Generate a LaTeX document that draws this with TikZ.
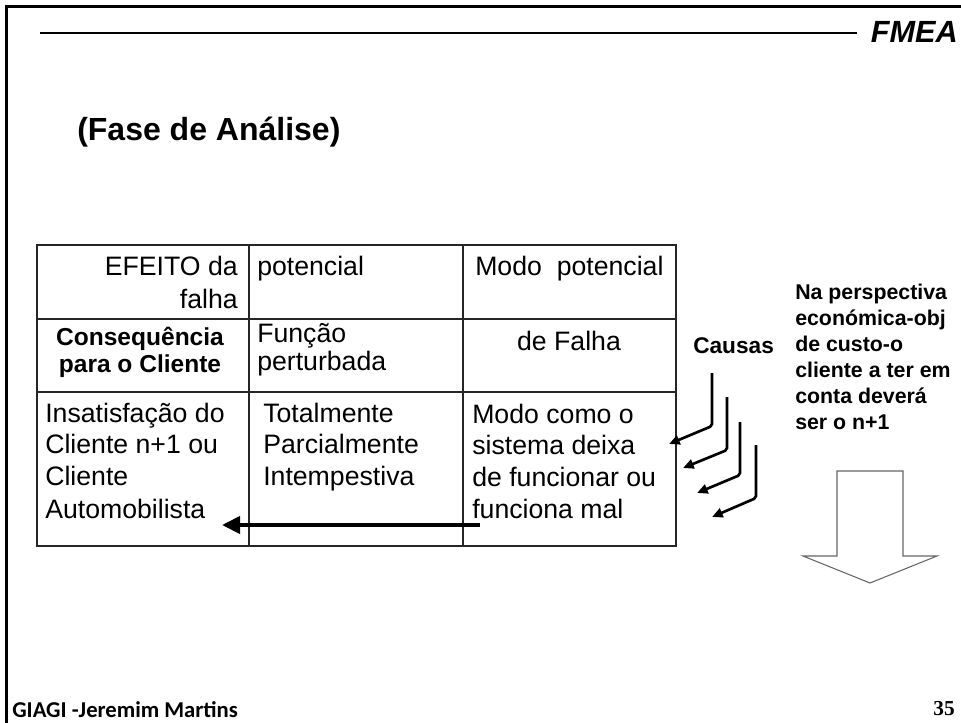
\documentclass[tikz,border=0pt]{standalone}
\usepackage{fontspec}
\setmainfont{Liberation Sans}
\newfontfamily\footfont{Carlito}
\newfontfamily\numfont{Liberation Serif}
\usetikzlibrary{arrows.meta}
\tikzset{
  txt/.style={inner sep=0pt, anchor=base west, font=\fontsize{20}{24}\selectfont},
  boldtxt/.style={inner sep=0pt, anchor=base, font=\fontsize{18.4}{22}\selectfont\bfseries},
  notetxt/.style={inner sep=0pt, anchor=base west, font=\fontsize{16}{19}\selectfont\bfseries},
  tableline/.style={line width=1.1pt, draw=black!85},
  causearrow/.style={line width=2pt, rounded corners=1.5pt, -{Triangle[length=8pt,width=7pt]}},
  blockarrow/.style={line width=0.8pt, draw=black!60, line join=miter}
}
\begin{document}
\begin{tikzpicture}[x=0.75pt,y=-0.75pt]
\useasboundingbox (0,0) rectangle (961,722);
% frame
\draw[line width=2.25pt, line join=miter] (6.5,730) -- (6.5,6.5) -- (970,6.5);
% header
\draw[line width=0.8pt] (40,33) -- (857,33);
\node[inner sep=0pt, anchor=base east, font=\fontsize{23}{27}\selectfont\bfseries\itshape] (fmea) at (958,42) {FMEA};
\node[inner sep=0pt, anchor=base west, font=\fontsize{24}{29}\selectfont\bfseries] (title) at (77,140) {(Fase de Análise)};
% table
\draw[tableline] (37,245) rectangle (676,546);
\draw[tableline] (249,245) -- (249,546);
\draw[tableline] (463,245) -- (463,546);
\draw[tableline] (37,319) -- (676,319);
\draw[tableline] (37,392) -- (676,392);
% row 1
\node[txt, anchor=base east] (c11a) at (238,275) {EFEITO da};
\node[txt, anchor=base east] (c11b) at (238,308) {falha};
\node[txt] (c12) at (257,275) {potencial};
\node[txt] (c13) at (475,275) {Modo\ \ potencial};
% row 2
\node[boldtxt] (c21a) at (140,345) {Consequência};
\node[boldtxt] (c21b) at (140,372) {para o Cliente};
\node[txt] (c22a) at (257,342) {Função};
\node[txt] (c22b) at (257,370) {perturbada};
\node[txt, anchor=base] (c23) at (569,350) {de Falha};
% row 3
\node[txt] (c31a) at (45,422) {Insatisfação do};
\node[txt] (c31b) at (45,453) {Cliente n+1 ou};
\node[txt] (c31c) at (45,485) {Cliente};
\node[txt] (c31d) at (45,518) {Automobilista};
\node[txt] (c32a) at (263,422) {Totalmente};
\node[txt] (c32b) at (263,453) {Parcialmente};
\node[txt] (c32c) at (263,485) {Intempestiva};
\node[txt] (c33a) at (472,423) {Modo como o};
\node[txt] (c33b) at (472,454) {sistema deixa};
\node[txt] (c33c) at (472,486) {de funcionar ou};
\node[txt] (c33d) at (472,518) {funciona mal};
% table arrow
\coordinate (tailA) at (480,525);
\coordinate (headA) at (222,525);
\draw[line width=3pt, -{Triangle[length=13.5pt,width=12.75pt]}] (tailA) -- (headA);
% causas
\node[inner sep=0pt, anchor=base west, font=\fontsize{17}{20}\selectfont\bfseries] (causas) at (693,353) {Causas};
\coordinate (a1t) at (712,373); \coordinate (a1b) at (712,426); \coordinate (a1h) at (669,444);
\coordinate (a2t) at (727,397); \coordinate (a2b) at (727,450); \coordinate (a2h) at (683,468);
\coordinate (a3t) at (740,422); \coordinate (a3b) at (740,475); \coordinate (a3h) at (697,493);
\coordinate (a4t) at (756,445); \coordinate (a4b) at (756,498); \coordinate (a4h) at (712,517);
\draw[causearrow] (a1t) -- (a1b) -- (a1h);
\draw[causearrow] (a2t) -- (a2b) -- (a2h);
\draw[causearrow] (a3t) -- (a3b) -- (a3h);
\draw[causearrow] (a4t) -- (a4b) -- (a4h);
% note
\node[notetxt] (n1) at (795,299) {Na perspectiva};
\node[notetxt] (n2) at (795,325) {económica-obj};
\node[notetxt] (n3) at (795,351) {de custo-o};
\node[notetxt] (n4) at (795,377) {cliente a ter em};
\node[notetxt] (n5) at (795,403) {conta deverá};
\node[notetxt] (n6) at (795,429) {ser o n+1};
% block arrow
\draw[blockarrow] (837,471) -- (903,471) -- (903,556) -- (937,556) -- (870,583) -- (803,556) -- (837,556) -- cycle;
% footer
\node[inner sep=0pt, anchor=base west, font=\footfont\fontsize{17}{20}\selectfont\bfseries] (foot) at (12,717) {GIAGI -Jeremim Martins};
\node[inner sep=0pt, anchor=base east, font=\numfont\fontsize{16}{19}\selectfont\bfseries] (pnum) at (955,715) {35};
\end{tikzpicture}
\end{document}
